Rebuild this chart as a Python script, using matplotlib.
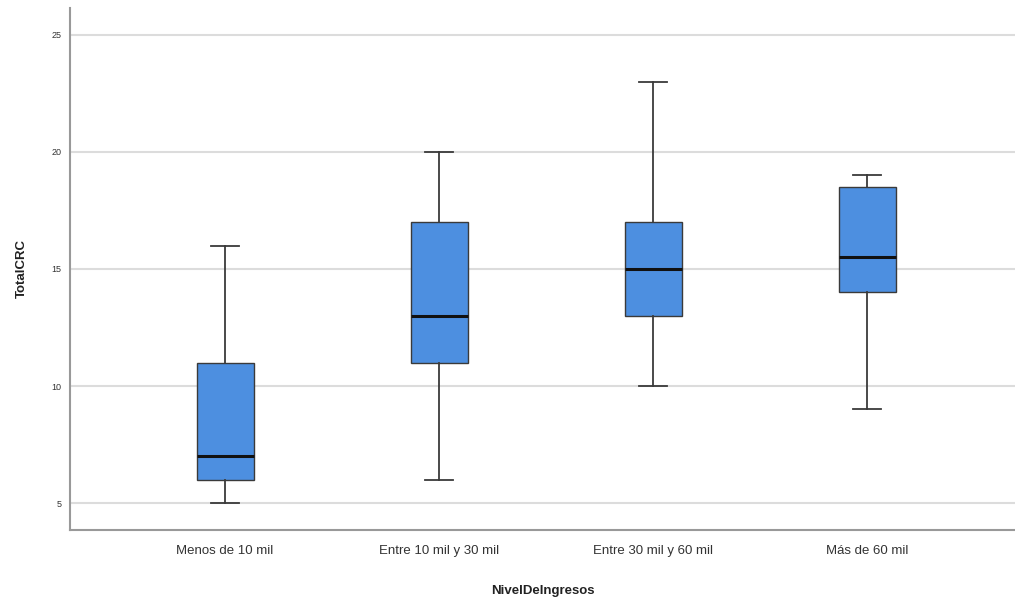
import matplotlib.pyplot as plt

plt.rcParams['font.family'] = ['Liberation Sans', 'DejaVu Sans']

categories = ['Menos de 10 mil', 'Entre 10 mil y 30 mil', 'Entre 30 mil y 60 mil', 'Más de 60 mil']
whisker_low = [5, 6, 10, 9]
q1 = [6, 11, 13, 14]
medians = [7, 13, 15, 15.5]
q3 = [11, 17, 17, 18.5]
whisker_high = [16, 20, 23, 19]
yticks = [5, 10, 15, 20, 25]

stats = []
for i, name in enumerate(categories):
    stats.append({'label': name, 'whislo': whisker_low[i], 'q1': q1[i], 'med': medians[i],
                  'q3': q3[i], 'whishi': whisker_high[i], 'fliers': []})

fig = plt.figure(figsize=(10.15, 6.03), dpi=100)
ax = fig.add_axes([0.069, 0.121, 0.931, 0.866])

ax.bxp(stats, positions=[1, 2, 3, 4], widths=0.266, patch_artist=True, showfliers=False,
       boxprops=dict(facecolor='#4d8fe0', edgecolor='#3a3a3a', linewidth=1.0),
       medianprops=dict(color='#111111', linewidth=2.2),
       whiskerprops=dict(color='#3a3a3a', linewidth=1.3),
       capprops=dict(color='#3a3a3a', linewidth=1.3),
       capwidths=0.13, zorder=3)

ax.set_ylim(3.85, 26.15)
ax.set_xlim(0.276, 4.69)
ax.set_yticks(yticks)
ax.set_yticklabels([str(t) for t in yticks], fontsize=6.5, color='#333333')
ax.tick_params(axis='y', length=0, pad=6)
ax.tick_params(axis='x', length=0, pad=11, labelsize=9.5, labelcolor='#333333')
ax.grid(axis='y', color='#dcdcdc', linewidth=1.5, zorder=0)
ax.set_axisbelow(True)

for s in ['top', 'right']:
    ax.spines[s].set_visible(False)
for s in ['left', 'bottom']:
    ax.spines[s].set_color('#999999')
    ax.spines[s].set_linewidth(1.5)

ax.set_ylabel('TotalCRC', fontsize=9.5, fontweight='bold', color='#222222')
ax.set_xlabel('NivelDeIngresos', fontsize=9.5, fontweight='bold', color='#222222')
ax.yaxis.set_label_coords(-0.045, 0.5)
ax.xaxis.set_label_coords(0.5, -0.105)

fig.savefig('out.png', dpi=100)
